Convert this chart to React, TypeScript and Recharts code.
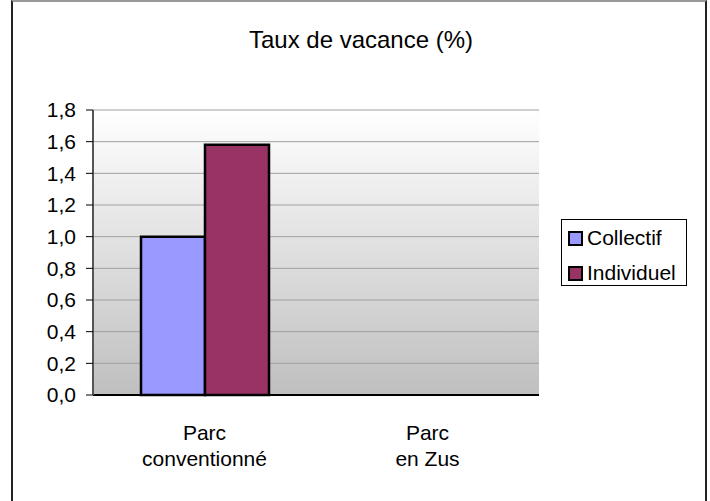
import React from 'react';
import { BarChart, Bar, XAxis, YAxis, CartesianGrid } from 'recharts';

const categories = ['Parc\nconventionné', 'Parc\nen Zus'];
const collectif = [1.0, null];
const individuel = [1.58, null];
const yTicks = [0, 0.2, 0.4, 0.6, 0.8, 1.0, 1.2, 1.4, 1.6, 1.8];
const seriesNames = ['Collectif', 'Individuel'];
const seriesColors = ['#9999FF', '#993366'];

const data = categories.map((name, i) => ({
  name,
  collectif: collectif[i],
  individuel: individuel[i],
}));

const FONT = '"Liberation Sans", Arial, sans-serif';

const CategoryTick = (props: any) => {
  const { x, y, payload } = props;
  const lines = String(payload.value).split('\n');
  return (
    <text x={x} y={y} textAnchor="middle" fontFamily={FONT} fontSize={21} fill="#000">
      {lines.map((l, i) => (
        <tspan key={i} x={x} dy={i === 0 ? 37 : 26}>
          {l}
        </tspan>
      ))}
    </text>
  );
};

const LegendBox = () => (
  <div
    style={{
      position: 'absolute',
      left: 561,
      top: 219,
      width: 124,
      height: 65,
      border: '1px solid #000',
      background: '#fff',
      fontFamily: FONT,
      fontSize: 21,
      color: '#000',
    }}
  >
    {seriesNames.map((n, i) => (
      <div
        key={n}
        style={{ display: 'flex', alignItems: 'center', height: 24, marginTop: i === 0 ? 6 : 11, paddingLeft: 6 }}
      >
        <span
          style={{
            display: 'inline-block',
            width: 11,
            height: 11,
            background: seriesColors[i],
            border: '2px solid #000',
            marginRight: 4,
          }}
        />
        <span>{n}</span>
      </div>
    ))}
  </div>
);

export default function App() {
  return (
    <div style={{ position: 'absolute', left: 0, top: 0, width: 710, height: 501, background: '#fff', overflow: 'hidden' }}>
      <div
        style={{
          position: 'absolute',
          left: 11,
          top: 0,
          width: 692,
          height: 520,
          borderLeft: '2px solid #222',
          borderRight: '2px solid #222',
          borderTop: '2px solid #999',
        }}
      />
      <div
        style={{
          position: 'absolute',
          left: 6,
          top: 26,
          width: 710,
          textAlign: 'center',
          fontFamily: FONT,
          fontSize: 24,
          color: '#000',
        }}
      >
        Taux de vacance (%)
      </div>
      <div style={{ position: 'absolute', left: 0, top: 0 }}>
        <BarChart
          width={710}
          height={501}
          data={data}
          margin={{ top: 110, right: 171, bottom: 26, left: 0 }}
          barGap={0}
          barSize={64}
        >
          <defs>
            <linearGradient id="plotBg" x1="0" y1="0" x2="0" y2="1">
              <stop offset="0%" stopColor="#ffffff" />
              <stop offset="100%" stopColor="#bfbfbf" />
            </linearGradient>
          </defs>
          <CartesianGrid vertical={false} fill="url(#plotBg)" stroke="#a0a0a0" strokeWidth={1} />
          <XAxis
            dataKey="name"
            height={80}
            tick={<CategoryTick />}
            tickLine={false}
            axisLine={{ stroke: '#000', strokeWidth: 2 }}
            interval={0}
          />
          <YAxis
            width={93}
            domain={[0, 1.8]}
            ticks={yTicks}
            interval={0}
            tickSize={7}
            tickMargin={10}
            tickFormatter={(v: number) => v.toFixed(1).replace('.', ',')}
            tick={{ fontFamily: FONT, fontSize: 21, fill: '#000' }}
            axisLine={{ stroke: '#555', strokeWidth: 2 }}
            tickLine={{ stroke: '#000' }}
          />
          <YAxis
            yAxisId="edge"
            orientation="right"
            width={0}
            tick={false}
            tickLine={false}
            axisLine={{ stroke: '#888', strokeWidth: 2 }}
          />
          <Bar dataKey="collectif" name="Collectif" fill={seriesColors[0]} stroke="#000" strokeWidth={2.5} isAnimationActive={false} />
          <Bar dataKey="individuel" name="Individuel" fill={seriesColors[1]} stroke="#000" strokeWidth={2.5} isAnimationActive={false} />
        </BarChart>
      </div>
      <LegendBox />
    </div>
  );
}
